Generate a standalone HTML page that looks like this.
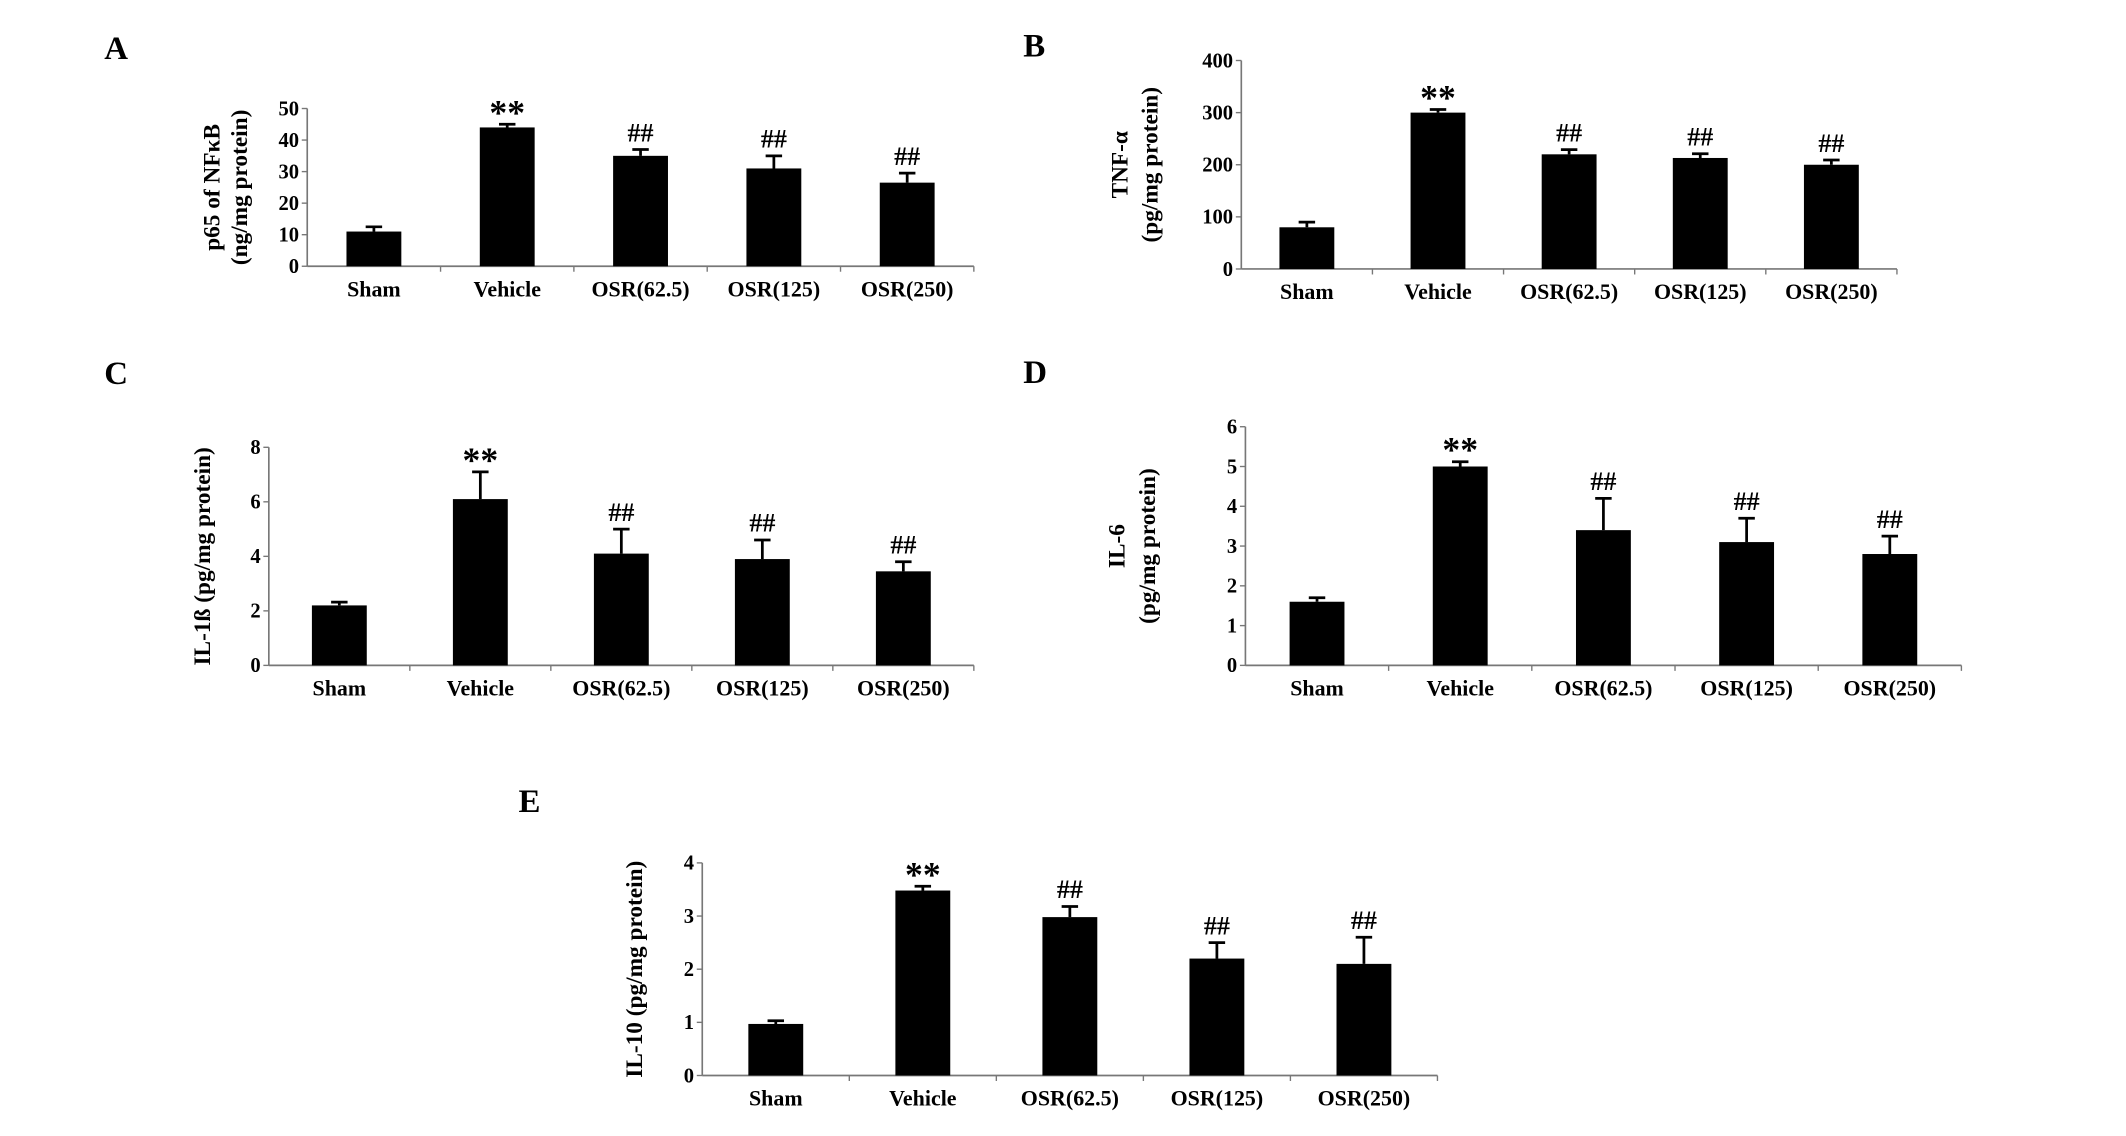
<!DOCTYPE html>
<html><head><meta charset="utf-8">
<style>
html,body{margin:0;padding:0;background:#fff;}
svg{display:block;}
text{font-family:"Liberation Serif",serif;font-weight:bold;fill:#000;}
</style></head>
<body>
<svg id="fig" width="2126" height="1136" viewBox="0 0 1550 828" xmlns="http://www.w3.org/2000/svg"></svg>
<script>
const categories = ["Sham","Vehicle","OSR(62.5)","OSR(125)","OSR(250)"];
const markers = ["","**","##","##","##"];
const valuesA = [11, 44, 35, 31, 26.5];
const errorsA = [1.5, 1, 2, 4, 3];
const ticksA = [0,10,20,30,40,50];
const valuesB = [80, 300, 220, 213, 200];
const errorsB = [10, 6, 9, 8, 9];
const ticksB = [0,100,200,300,400];
const valuesC = [2.2, 6.1, 4.1, 3.9, 3.45];
const errorsC = [0.12, 1.0, 0.9, 0.7, 0.35];
const ticksC = [0,2,4,6,8];
const valuesD = [1.6, 5.0, 3.4, 3.1, 2.8];
const errorsD = [0.1, 0.12, 0.8, 0.6, 0.45];
const ticksD = [0,1,2,3,4,5,6];
const valuesE = [0.97, 3.48, 2.98, 2.2, 2.1];
const errorsE = [0.06, 0.08, 0.2, 0.3, 0.5];
const ticksE = [0,1,2,3,4];

const NS = "http://www.w3.org/2000/svg";
const svg = document.getElementById('fig');
function mk(tag, attrs, parent, txt){
  const e = document.createElementNS(NS, tag);
  for (const k in attrs) e.setAttribute(k, attrs[k]);
  if (txt !== undefined) e.textContent = txt;
  (parent||svg).appendChild(e);
  return e;
}

function panel(id, letter, lx, ly, ax, y0, y1, xEnd, ticks, vals, errs, ylabels, ylx){
  const g = mk('g', {});
  
  
  const lt = mk('text', {x:lx, y:ly, 'font-size':24}, g, letter);
  
  
  const tmax = ticks[ticks.length-1];
  const yS = v => y0 - (v / tmax) * (y0 - y1);
  const bandW = (xEnd - ax) / categories.length;
  const xS = i => ax + bandW * (i + 0.5);
  const yax = mk('line', {x1:ax, y1:y1, x2:ax, y2:y0, stroke:'#777', 'stroke-width':1.2}, g);
  
  
  const xax = mk('line', {x1:ax, y1:y0, x2:xEnd, y2:y0, stroke:'#777', 'stroke-width':1.2}, g);
  
  
  ticks.forEach(t => {
    const y = yS(t);
    mk('line', {x1:ax-4, y1:y, x2:ax, y2:y, stroke:'#777', 'stroke-width':1}, g);
    const tl = mk('text', {x:ax-6, y:y+5, 'font-size':15, 'text-anchor':'end'}, g, t);
    
    
  });
  for (let i = 1; i <= categories.length; i++) {
    const x = ax + bandW * i;
    mk('line', {x1:x, y1:y0, x2:x, y2:y0+4, stroke:'#777', 'stroke-width':1}, g);
  }
  categories.forEach((c, i) => {
    const x = xS(i);
    const bw = 40;
    const bar = mk('rect', {x:x-bw/2, y:yS(vals[i]), width:bw, height:y0-yS(vals[i]), fill:'#000'}, g);
    
    
    const et = yS(vals[i] + errs[i]);
    const eb = mk('path', {d:`M${x},${yS(vals[i])}V${et}M${x-6},${et}H${x+6}`, stroke:'#000', 'stroke-width':2, fill:'none'}, g);
    
    
    if (markers[i]) {
      const isStar = markers[i] === '**';
      const m = mk('text', {x:x, y:et - (isStar ? 0 : 6), 'font-size': isStar ? 26 : 19, 'text-anchor':'middle'}, g, markers[i]);
      
      
    }
    const cl = mk('text', {x:x, y:y0+22, 'font-size':16, 'text-anchor':'middle'}, g, c);
    
    
  });
  const yc = (y0 + y1) / 2;
  ylabels.forEach((s, k) => {
    const x = ylx[k];
    const t = mk('text', {x:x, y:yc, 'font-size':17, 'text-anchor':'middle', transform:`rotate(-90 ${x} ${yc})`}, g, s);
    
    
  });
}

panel('a','A',76,43,224,194,79,710,ticksA,valuesA,errorsA,["p65 of NF\u03baB","(ng/mg protein)"],[160,180]);
panel('b','B',746,41,905,196,44,1383,ticksB,valuesB,errorsB,["TNF-\u03b1","(pg/mg protein)"],[822,844]);
panel('c','C',76,280,196,485,326,710,ticksC,valuesC,errorsC,["IL-1\u00df (pg/mg protein)"],[153]);
panel('d','D',746,279,908,485,311,1430,ticksD,valuesD,errorsD,["IL-6","(pg/mg protein)"],[820,842]);
panel('e','E',378,592,512,784,629,1048,ticksE,valuesE,errorsE,["IL-10 (pg/mg protein)"],[468]);
</script>
</body></html>
